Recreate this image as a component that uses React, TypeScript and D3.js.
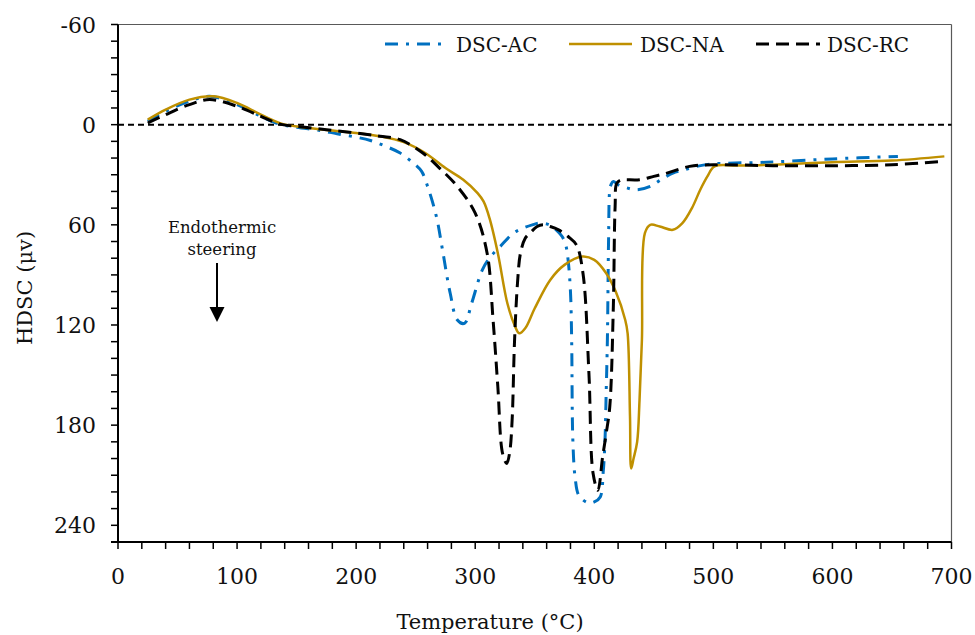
import React from "react";
import * as d3 from "d3";

// temperature (°C) and heat-flow readings for each sample
const acTemp = [25, 40, 60, 77, 100, 120, 135, 150, 170, 184, 200, 212, 225, 237, 248, 255, 260, 264, 268, 273, 279, 285, 291, 297, 306, 313, 321, 332, 340, 348, 354, 362, 368, 373, 376, 378, 380, 381, 382, 384, 387, 394.6, 400, 405, 407.5, 409, 410, 411, 412, 413, 414, 416, 420, 428, 436, 447, 456, 466, 476, 486, 500, 545, 600, 655];
const acVal = [-2, -8, -14, -17, -12, -5, -0.5, 1.5, 3.5, 5.5, 7.5, 9.5, 13, 17, 23, 28, 37, 46, 57, 77, 101, 117, 119, 107, 87, 79, 73, 65, 62, 60, 59, 60, 63, 67, 72, 81, 100, 129, 189, 212, 222, 226.5, 226, 223, 208, 189, 160, 129, 69, 39, 36, 34, 36, 38, 39, 37, 33, 29, 27, 25, 23.5, 22.5, 20.5, 19];

const naTemp = [25, 40, 60, 80, 100, 120, 138, 155, 180, 200, 220, 240, 258, 275, 290, 302, 307, 312, 319, 327, 333, 337, 342, 350, 363, 375, 390, 400, 410, 418, 426, 428, 430, 431, 433, 436, 438, 440, 442.5, 447, 455, 466, 474, 482, 489, 495, 501, 520, 550, 600, 650, 694];
const naVal = [-3, -9, -15, -17, -13, -6, -0.5, 1.5, 3.5, 5, 7, 10.5, 17, 26, 33, 41, 46, 56, 77, 107, 120, 125, 122, 110, 93, 84, 79, 81, 89, 100, 117, 125, 175, 206, 200, 190, 165, 129, 65, 60, 61, 63, 59, 50, 39, 31, 25, 24.5, 24, 22.5, 21.5, 19];

const rcTemp = [25, 40, 60, 77, 100, 120, 135, 150, 175, 200, 220, 237, 256, 270, 285, 300, 310, 315, 319, 323, 326.5, 329, 331, 333, 335.5, 338, 342, 346, 352, 357, 363, 370, 378, 385, 390.5, 395.5, 399, 403, 407, 410, 413, 416, 417.5, 419, 423, 427, 438, 450, 461, 480, 500, 550, 600, 650, 694];
const rcVal = [-1, -6, -12, -15, -11, -5, -0.5, 1, 3, 5, 7, 9, 17, 26, 37, 53, 77, 117, 157, 197, 203, 196, 177, 130, 95, 77, 68, 65, 61, 60, 61, 63, 67, 72, 89, 149, 209, 219, 199, 185, 169, 109, 49, 35, 33, 33, 33, 31, 29, 25, 24, 24.6, 24.6, 24, 22];

const seriesNames = ["DSC-AC", "DSC-NA", "DSC-RC"];
const yTickLabels = [-60, 0, 60, 120, 180, 240];
const xTickLabels = [0, 100, 200, 300, 400, 500, 600, 700];

const FONT = "DejaVu Serif";

const styles = [
  { color: "#0070C0", dash: "13 8 3 8", width: 3 },
  { color: "#BF9000", dash: null, width: 2.5 },
  { color: "#000000", dash: "13 7", width: 3 },
];

export default function App() {
  const width = 975;
  const height = 635;
  const left = 118;
  const right = 951.5;
  const top = 24.5;
  const bottom = 542;

  const x = d3.scaleLinear().domain([0, 700]).range([left, right]);
  const y = d3.scaleLinear().domain([-60, 250]).range([top, bottom]);

  const line = d3
    .line<[number, number]>()
    .x((d) => x(d[0]))
    .y((d) => y(d[1]))
    .curve(d3.curveCatmullRom.alpha(0.5));

  const series = [
    d3.zip(acTemp, acVal) as [number, number][],
    d3.zip(naTemp, naVal) as [number, number][],
    d3.zip(rcTemp, rcVal) as [number, number][],
  ];

  const yMinor = d3.range(-60, 251, 10);
  const xMinor = d3.range(0, 701, 20);

  const legendX = [
    { x1: 385, x2: 441, tx: 456 },
    { x1: 569, x2: 632, tx: 640 },
    { x1: 756, x2: 820, tx: 827 },
  ];

  return (
    <svg
      width={width}
      height={height}
      style={{ position: "absolute", left: 0, top: 0, background: "#fff" }}
      fontFamily={FONT}
    >
      {/* frame */}
      <line x1={left} x2={right} y1={top} y2={top} stroke="#595959" strokeWidth={1.2} />
      <line x1={right} x2={right} y1={top} y2={bottom} stroke="#595959" strokeWidth={1.2} />

      {/* zero line */}
      <line
        x1={left}
        x2={right}
        y1={y(0)}
        y2={y(0)}
        stroke="#000"
        strokeWidth={2}
        strokeDasharray="6 4"
      />

      {series.map((s, i) => (
        <path
          key={seriesNames[i]}
          d={line(s) || ""}
          fill="none"
          stroke={styles[i].color}
          strokeWidth={styles[i].width}
          strokeDasharray={styles[i].dash || undefined}
          strokeLinejoin="round"
        />
      ))}

      {/* y axis */}
      <line x1={left} x2={left} y1={top} y2={bottom} stroke="#000" strokeWidth={2} />
      {yMinor.map((v) => (
        <line key={"ym" + v} x1={left - 7} x2={left} y1={y(v)} y2={y(v)} stroke="#000" strokeWidth={1.5} />
      ))}
      {yTickLabels.map((v) => (
        <text key={"yl" + v} x={96} y={y(v) + 8} textAnchor="end" fontSize={22} fill="#111">
          {v}
        </text>
      ))}

      {/* x axis */}
      <line x1={left - 7} x2={right} y1={bottom} y2={bottom} stroke="#000" strokeWidth={2} />
      {xMinor.map((v) => (
        <line key={"xm" + v} x1={x(v)} x2={x(v)} y1={bottom} y2={bottom + 7} stroke="#000" strokeWidth={1.5} />
      ))}
      {xTickLabels.map((v) => (
        <text key={"xl" + v} x={x(v)} y={584} textAnchor="middle" fontSize={22} fill="#111">
          {v}
        </text>
      ))}

      <text x={490} y={629} textAnchor="middle" fontSize={21} fill="#111">
        Temperature (°C)
      </text>
      <text transform="translate(32,288) rotate(-90)" textAnchor="middle" fontSize={21} fill="#111">
        HDSC (μv)
      </text>

      {/* legend */}
      {seriesNames.map((n, i) => (
        <g key={"lg" + n}>
          <line
            x1={legendX[i].x1}
            x2={legendX[i].x2}
            y1={44}
            y2={44}
            stroke={styles[i].color}
            strokeWidth={styles[i].width}
            strokeDasharray={styles[i].dash || undefined}
          />
          <text x={legendX[i].tx} y={52} fontSize={20} fill="#111">
            {n}
          </text>
        </g>
      ))}

      {/* annotation */}
      <text x={222} y={233} textAnchor="middle" fontSize={16.5} fill="#111">
        Endothermic
      </text>
      <text x={222} y={255} textAnchor="middle" fontSize={16.5} fill="#111">
        steering
      </text>
      <line x1={217} x2={217} y1={263} y2={309} stroke="#000" strokeWidth={2} />
      <path d="M209.5,307 L224.5,307 L217,322 Z" fill="#000" />
    </svg>
  );
}
